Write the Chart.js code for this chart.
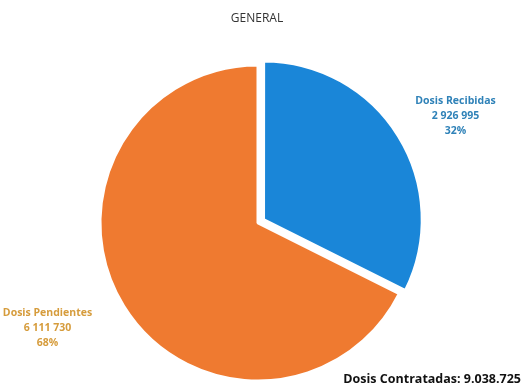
<!DOCTYPE html>
<html>
<head>
<meta charset="utf-8">
<script src="https://cdn.jsdelivr.net/npm/chart.js@4/dist/chart.umd.min.js"></script>
<style>
  html, body { margin: 0; padding: 0; background: #fff; }
  #wrap { width: 523px; height: 386px; }
</style>
</head>
<body>
<div id="wrap"><canvas id="pie" width="523" height="386"></canvas></div>
<script>
const chartTitle = 'GENERAL';
const sliceLabels = ['Dosis Recibidas', 'Dosis Pendientes'];
const sliceValues = [2926995, 6111730];
const valueTexts = ['2 926 995', '6 111 730'];
const percentTexts = ['32%', '68%'];
const totalText = 'Dosis Contratadas: 9.038.725';

const sliceColors = ['#1a86d8', '#ef7a30'];
const labelColors = ['#2f82b8', '#d69c3c'];
const sliceOffsets = [26, 0];

// label anchors: distance from centre along the mid angle (in radii) plus a nudge
const labelPlacement = [
  { dist: 1.38, dx: 12, dy: 8 },
  { dist: 1.38, dx: -25, dy: -10 },
];

const textPlugin = {
  id: 'pieText',
  afterDraw(chart) {
    const ctx = chart.ctx;
    ctx.save();
    ctx.textAlign = 'center';
    ctx.textBaseline = 'middle';
    ctx.fillStyle = '#333';
    ctx.font = '12px "Open Sans", sans-serif';
    ctx.fillText(chartTitle, 257, 19);

    const meta = chart.getDatasetMeta(0);
    meta.data.forEach((arc, i) => {
      const mid = (arc.startAngle + arc.endAngle) / 2;
      const p = labelPlacement[i];
      const x = arc.x + Math.cos(mid) * arc.outerRadius * p.dist + p.dx;
      const y = arc.y + Math.sin(mid) * arc.outerRadius * p.dist + p.dy;
      ctx.fillStyle = labelColors[i];
      ctx.font = 'bold 10.5px "Open Sans", sans-serif';
      ctx.fillText(sliceLabels[i], x, y - 15);
      ctx.fillText(valueTexts[i], x, y);
      ctx.fillText(percentTexts[i], x, y + 15);
    });

    ctx.textAlign = 'right';
    ctx.textBaseline = 'alphabetic';
    ctx.fillStyle = '#111';
    ctx.font = 'bold 12.5px "Open Sans", sans-serif';
    ctx.fillText(totalText, 521, 383);
    ctx.restore();
  }
};

const pieConfig = {
  type: 'pie',
  data: {
    labels: sliceLabels,
    datasets: [
      {
        data: sliceValues,
        backgroundColor: sliceColors,
        borderColor: '#ffffff',
        borderWidth: 3,
        offset: sliceOffsets,
        radius: 158,
      },
    ],
  },
  options: {
    responsive: false,
    animation: false,
    layout: { padding: { top: 60, bottom: 0, left: 0, right: 7 } },
    plugins: {
      legend: { display: false },
      tooltip: { enabled: false },
    },
  },
  plugins: [textPlugin],
};

const pieCtx = document.getElementById('pie');
window.myPie = new Chart(pieCtx, pieConfig);
</script>
</body>
</html>
